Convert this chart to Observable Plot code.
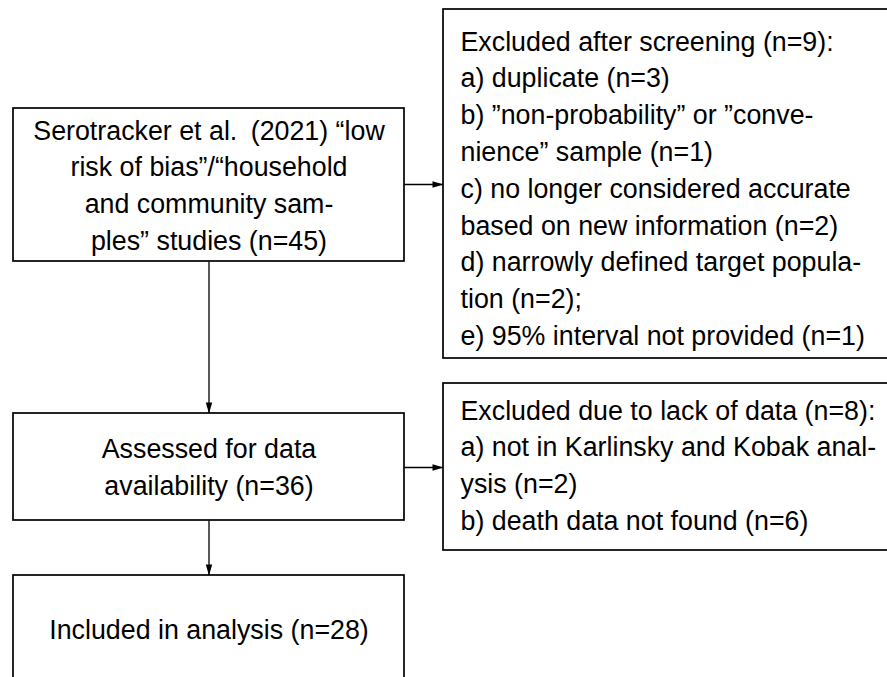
<!DOCTYPE html>
<html>
<head>
<meta charset="utf-8">
<script src="https://cdn.jsdelivr.net/npm/d3@7"></script>
<script src="https://cdn.jsdelivr.net/npm/@observablehq/plot@0.6"></script>
<style>
  html, body { margin: 0; padding: 0; background: #fff; }
  #chart svg { display: block; }
</style>
</head>
<body>
<div id="chart"></div>
<script>
// ---- content ----
const stageLines = [
  ["Serotracker et al.\u2002(2021) “low", "risk of bias”/“household", "and community sam-", "ples” studies (n=45)"],
  ["Assessed for data", "availability (n=36)"],
  ["Included in analysis (n=28)"]
];
const exclusionLines = [
  ["Excluded after screening (n=9):", "a) duplicate (n=3)", "b) ”non-probability” or ”conve-", "nience” sample (n=1)",
   "c) no longer considered accurate", "based on new information (n=2)", "d) narrowly defined target popula-",
   "tion (n=2);", "e) 95% interval not provided (n=1)"],
  ["Excluded due to lack of data (n=8):", "a) not in Karlinsky and Kobak anal-", "ysis (n=2)", "b) death data not found (n=6)"]
];

// ---- layout (pixel space) ----
const stageLayout = [
  {x1: 13, x2: 404, y1: 108, y2: 261},
  {x1: 13, x2: 404, y1: 413, y2: 520},
  {x1: 13, x2: 404, y1: 575, y2: 682}
];
const exclLayout = [
  {x1: 443, x2: 910, y1: 9, y2: 358, ty: 24},
  {x1: 443, x2: 910, y1: 383, y2: 550, ty: 393}
];
const textPad = 17;
const fontSize = 26.8;
const lineH = 36.8;

const stages = stageLines.map((lines, i) => ({...stageLayout[i], text: lines.join("\n")}));
const exclusions = exclusionLines.map((lines, i) => ({...exclLayout[i], text: lines.join("\n")}));

const cx = b => (b.x1 + b.x2) / 2;
const cy = b => (b.y1 + b.y2) / 2;

// connectors: stage -> next stage (vertical), stage -> exclusion (horizontal)
const links = [
  {x1: cx(stages[0]), y1: stages[0].y2, x2: cx(stages[0]), y2: stages[1].y1, dir: 180},
  {x1: cx(stages[1]), y1: stages[1].y2, x2: cx(stages[1]), y2: stages[2].y1, dir: 180},
  {x1: stages[0].x2, y1: 184, x2: exclusions[0].x1, y2: 184, dir: 90},
  {x1: stages[1].x2, y1: 467, x2: exclusions[1].x1, y2: 467, dir: 90}
];

const font = "'Liberation Sans', Arial, Helvetica, sans-serif";

const chart = Plot.plot({
  width: 887,
  height: 677,
  margin: 0,
  x: {type: "identity", axis: null},
  y: {type: "identity", axis: null},
  marks: [
    Plot.link(links, {x1: "x1", y1: "y1", x2: "x2", y2: "y2", stroke: "black", strokeWidth: 1.3}),
    Plot.vector(links, {x: "x2", y: "y2", rotate: "dir", length: 11, r: 3.2, shape: "spike", anchor: "end", fill: "black", stroke: "none"}),
    Plot.rect([...stages, ...exclusions], {x1: "x1", x2: "x2", y1: "y1", y2: "y2", fill: "white", stroke: "black", strokeWidth: 1.7}),
    Plot.text(stages, {x: d => cx(d), y: d => cy(d) - 2, text: "text", textAnchor: "middle", lineAnchor: "middle",
      fontSize, lineHeight: lineH / fontSize, fontFamily: font, fill: "black"}),
    Plot.text(exclusions, {x: d => d.x1 + textPad, y: "ty", text: "text", textAnchor: "start", lineAnchor: "top",
      fontSize, lineHeight: lineH / fontSize, fontFamily: font, fill: "black"})
  ]
});
document.getElementById("chart").appendChild(chart);
</script>
</body>
</html>
